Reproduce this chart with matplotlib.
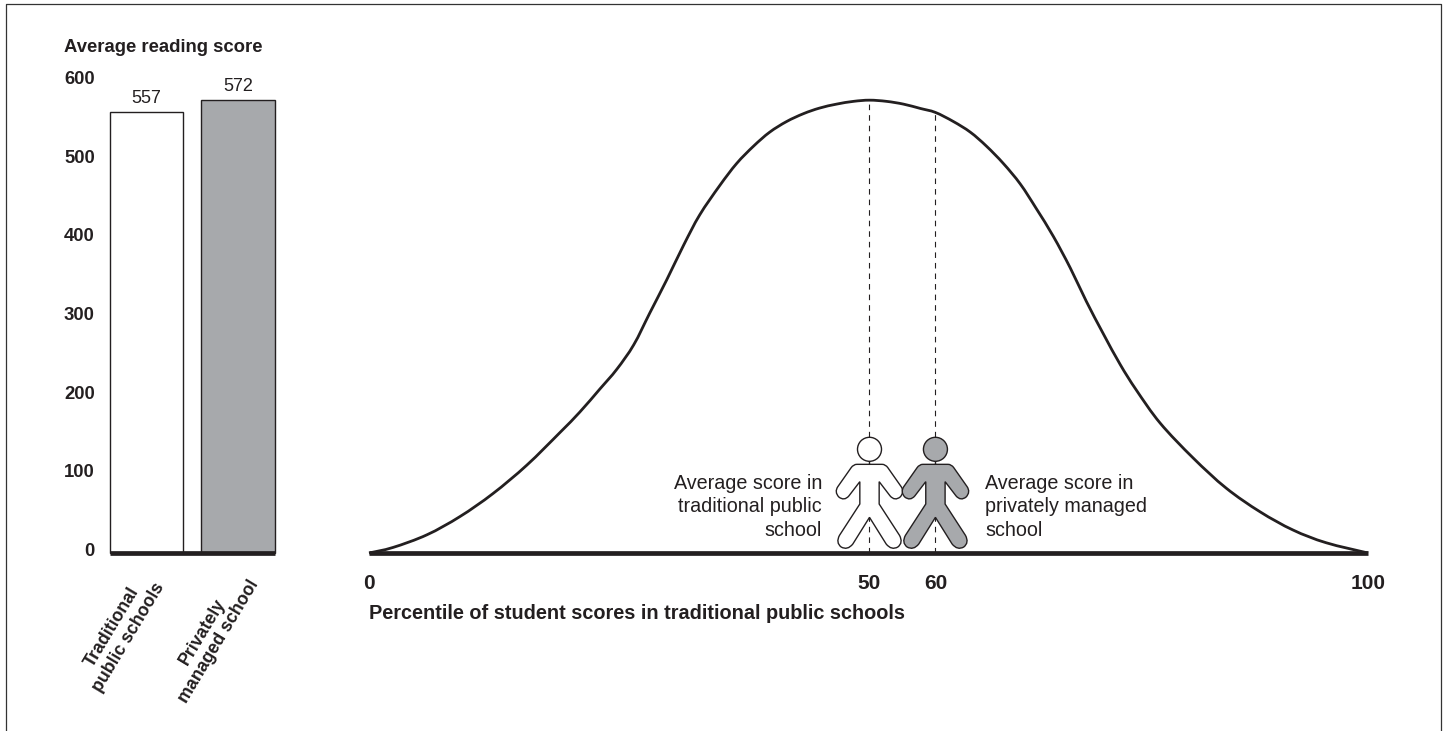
#!/usr/bin/env python3
import matplotlib
matplotlib.use("Agg")
import matplotlib.pyplot as plt
from matplotlib.lines import Line2D
from matplotlib.patches import Circle, PathPatch
from matplotlib.path import Path
from matplotlib.transforms import Affine2D

plt.rcParams['font.family'] = ['Liberation Sans', 'DejaVu Sans']

# left panel
bar_labels = ["Traditional\npublic schools", "Privately\nmanaged school"]
bar_values = [557, 572]
y_ticks = [0, 100, 200, 300, 400, 500, 600]
# printed labels sit a little off the true scale in the original
y_tick_pos = [5, 104, 203, 303, 402, 501, 600]

# right panel, the curve is read off the picture (horizontal axis is not to scale at 60)
curve_x = [0, 2.4, 5.8, 9.1, 12.4, 15.8, 19.1, 21.1, 23.1, 24.8, 26.5, 28.1, 29.8, 31.5, 33.1, 35.1,
           36.8, 38.5, 40.1, 41.8, 43.5, 45.1, 46.8, 48.5, 50.1, 51.8, 53.5, 55.2, 56.7,
           58.5, 60.2, 61.8, 63.5, 65.2, 66.8, 68.5, 70.2, 71.8, 73.5, 75.2, 76.8, 79.2,
           82.5, 85.8, 89.2, 92.5, 95.8, 100]
curve_y = [0, 7, 23, 46, 75, 111, 152, 178, 207, 232, 263, 303, 345, 389, 427, 464,
           492, 514, 531.5, 545, 555, 562, 567, 570.5, 572, 570.5, 567, 561.5, 556.5,
           545, 531.5, 514, 492, 466, 435, 400, 360, 318, 277, 238, 206, 164,
           120, 82, 52, 29, 13, 0]
x_tick_pos = [0, 50.1, 56.7, 100]
x_tick_labels = ["0", "50", "60", "100"]
marker_pos = [50.1, 56.7]
marker_top = [572, 557]

INK = '#231f20'
GREY = '#a7a9ac'
W, H = 1447, 731


def px_axes(fig, x0, x1, y_top, y_bottom):
	ax = fig.add_axes([x0 / W, 1 - y_bottom / H, (x1 - x0) / W, (y_bottom - y_top) / H])
	for s in ax.spines.values():
		s.set_visible(False)
	ax.patch.set_alpha(0)
	return ax


def smooth_path(xs, ys):
	# bezier segments through the read points, so the line has no corners
	verts = [(xs[0], ys[0])]
	codes = [Path.MOVETO]
	n = len(xs)
	for i in range(n - 1):
		a, b = max(i - 1, 0), min(i + 2, n - 1)
		verts.append((xs[i] + (xs[i + 1] - xs[a]) / 6, ys[i] + (ys[i + 1] - ys[a]) / 6))
		verts.append((xs[i + 1] - (xs[b] - xs[i]) / 6, ys[i + 1] - (ys[b] - ys[i]) / 6))
		verts.append((xs[i + 1], ys[i + 1]))
		codes += [Path.CURVE4] * 3
	return Path(verts, codes)


# half outline of the person icon, measured up from the baseline
half_person = [
	(Path.LINETO, (38, 266)), (Path.CURVE3, (48, 266)), (Path.CURVE3, (55, 256)),
	(Path.LINETO, (95, 199)), (Path.CURVE3, (106, 183)), (Path.CURVE3, (92, 168)),
	(Path.CURVE3, (76, 155)), (Path.CURVE3, (62, 171)), (Path.LINETO, (29, 214)),
	(Path.LINETO, (29, 147)), (Path.LINETO, (90, 53)), (Path.CURVE3, (102, 31)),
	(Path.CURVE3, (85, 18)), (Path.CURVE3, (66, 7)), (Path.CURVE3, (50, 27)),
	(Path.LINETO, (0, 107)),
]


def person_path():
	verts = [(0, 266 / 3)]
	codes = [Path.MOVETO]
	for code, (x, y) in half_person:
		verts.append((x / 3, y / 3))
		codes.append(code)
	# mirror for the left side, walking back up
	pts = verts[:]
	for i in range(len(pts) - 2, -1, -1):
		verts.append((-pts[i][0], pts[i][1]))
		codes.append(codes[i + 1])
	return Path(verts, codes)


def draw_person(ax, x, color):
	cx, cy = ax.transData.transform((x, 0))
	tr = Affine2D().translate(cx, cy)
	ax.add_line(Line2D([0, 0], [88, 92], transform=tr, color=INK, lw=1.0, zorder=3, clip_on=False))
	ax.add_patch(PathPatch(person_path(), transform=tr, facecolor=color, edgecolor=INK,
		lw=1.0, zorder=4, clip_on=False))
	ax.add_patch(Circle((0, 103.7), 12, transform=tr, facecolor=color, edgecolor=INK,
		lw=1.0, zorder=4, clip_on=False))


def main():
	fig = plt.figure(figsize=(W / 100, H / 100), dpi=100, facecolor='white')

	# frame, open at the bottom
	fx = [6 / W, 6 / W, 1441 / W, 1441 / W]
	fy = [0, 1 - 4 / H, 1 - 4 / H, 0]
	fig.add_artist(Line2D(fx, fy, color='#333333', lw=0.9))

	# bars
	ax = px_axes(fig, 110, 274.5, 78, 553)
	ax.bar([0, 1], bar_values, width=0.8, color=['white', GREY], edgecolor=INK, linewidth=1.0,
		zorder=2, clip_on=False)
	ax.set_xlim(-0.4, 1.4)
	ax.set_ylim(0, 600)
	ax.set_yticks(y_tick_pos)
	ax.set_yticklabels(y_ticks, fontweight='bold', fontsize=13.3, color=INK)
	ax.tick_params(axis='y', length=0, pad=11)
	ax.set_xticks([])
	ax.axhline(0, color=INK, lw=3.4, solid_capstyle='butt', zorder=3, clip_on=False)
	for i, v in enumerate(bar_values):
		ax.annotate(str(v), (i, v), xytext=(0, 5), textcoords='offset pixels', ha='center', va='bottom',
			fontsize=13, color=INK)
	offs = [(-26, -79), (-27, -84)]
	for i, lab in enumerate(bar_labels):
		ax.annotate(lab, (i, 0), xytext=offs[i], textcoords='offset pixels', ha='center', va='center',
			rotation=59, rotation_mode='anchor', fontsize=12.8, fontweight='bold', color=INK,
			linespacing=1.15, annotation_clip=False)
	fig.text(64 / W, 1 - 47 / H, "Average reading score", fontsize=13.3, fontweight='bold', color=INK, va='center')

	# curve
	ax2 = px_axes(fig, 369, 1368, 78, 553)
	ax2.set_xlim(0, 100)
	ax2.set_ylim(0, 600)
	ax2.set_yticks([])
	ax2.add_patch(PathPatch(smooth_path(curve_x, curve_y), facecolor='none', edgecolor=INK, lw=2.0,
		zorder=2, clip_on=False))
	ax2.axhline(0, color=INK, lw=3.4, solid_capstyle='butt', zorder=5, clip_on=False)
	for x, top in zip(marker_pos, marker_top):
		ax2.plot([x, x], [0, top], color=INK, lw=0.8, linestyle=(0, (5, 4.5)), zorder=1)
	ax2.set_xticks(x_tick_pos)
	ax2.set_xticklabels(x_tick_labels, fontweight='bold', fontsize=15, color=INK)
	ax2.tick_params(axis='x', length=0, pad=15)
	ax2.set_xlabel("Percentile of student scores in traditional public schools", fontweight='bold',
		fontsize=14.35, color=INK, loc='left', labelpad=8)

	draw_person(ax2, marker_pos[0], 'white')
	draw_person(ax2, marker_pos[1], GREY)

	fig.text(822 / W, 1 - 507 / H, "Average score in\ntraditional public\nschool", ha='right', va='center',
		multialignment='right', fontsize=14.2, color=INK, linespacing=1.28)
	fig.text(985 / W, 1 - 507 / H, "Average score in\nprivately managed\nschool", ha='left', va='center',
		multialignment='left', fontsize=14.2, color=INK, linespacing=1.28)

	fig.savefig('out.png', dpi=100)


if __name__ == "__main__":
	main()
